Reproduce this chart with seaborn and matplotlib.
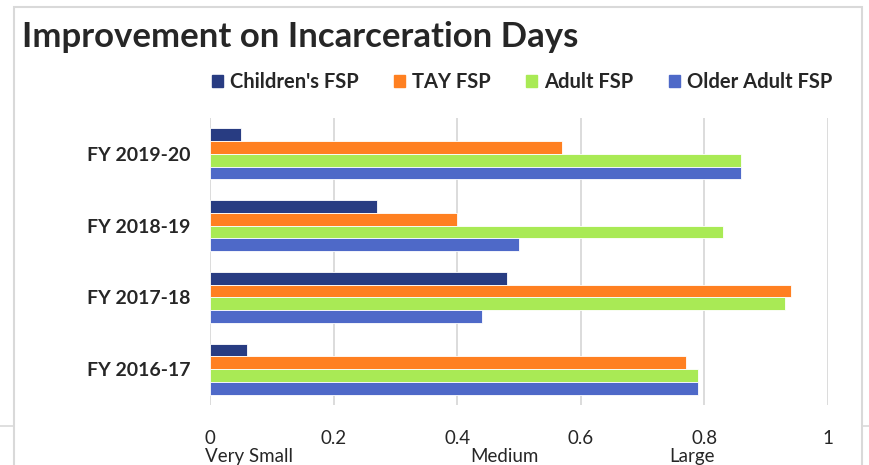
import pandas as pd
import matplotlib.pyplot as plt
import seaborn as sns
from matplotlib.patches import Rectangle
from matplotlib.lines import Line2D

years = ['FY 2019-20', 'FY 2018-19', 'FY 2017-18', 'FY 2016-17']
programs = ["Children's FSP", 'TAY FSP', 'Adult FSP', 'Older Adult FSP']
childrens = [0.05, 0.27, 0.48, 0.06]
tay = [0.57, 0.40, 0.94, 0.77]
adult = [0.86, 0.83, 0.93, 0.79]
older_adult = [0.86, 0.50, 0.44, 0.79]
colors = ['#283c82', '#ff8021', '#a9ea55', '#4e69c8']
x_ticks = [0, 0.2, 0.4, 0.6, 0.8, 1]
x_tick_labels = ['0', '0.2', '0.4', '0.6', '0.8', '1']
effect_labels = ['Very Small', 'Medium', 'Large']
effect_pos = [0.0, 0.476, 0.78]

# long format for seaborn
rows = []
for prog, vals in zip(programs, [childrens, tay, adult, older_adult]):
    for yr, v in zip(years, vals):
        rows.append({'Year': yr, 'Program': prog, 'Value': v})
df = pd.DataFrame(rows)

sns.set_style('white')
plt.rcParams['font.family'] = ['Lato', 'DejaVu Sans']

fig = plt.figure(figsize=(8.69, 4.65), dpi=100)
W, H = 869, 465
ax = fig.add_axes([210 / W, 1 - 405 / H, (828 - 210) / W, (405 - 118) / H])

sns.barplot(data=df, y='Year', x='Value', hue='Program', order=years,
            hue_order=programs, palette=colors, saturation=1, orient='h',
            width=0.71, edgecolor='white', linewidth=0.6, ax=ax, zorder=3)

ax.set_xlim(0, 1)
ax.set_xticks(x_ticks)
ax.set_xticklabels(x_tick_labels, fontsize=13.5)
ax.tick_params(axis='x', length=0, pad=18)
ax.tick_params(axis='y', length=0, pad=14)
for lbl in ax.get_yticklabels():
    lbl.set_fontweight('bold')
    lbl.set_fontsize(14)
ax.set_xlabel('')
ax.set_ylabel('')
ax.grid(axis='x', color='#d9d9d9', linewidth=1.3, zorder=0)
ax.set_axisbelow(True)
for s in ax.spines.values():
    s.set_visible(False)

# effect size words under the ticks
for lab, pos in zip(effect_labels, effect_pos):
    ha = 'left' if pos == 0 else 'center'
    xx = -0.008 if pos == 0 else pos
    ax.text(xx, -0.178, lab, transform=ax.get_xaxis_transform(),
            ha=ha, va='center', fontsize=13.5)

ax.legend_.remove()
handles = [Rectangle((0, 0), 1, 1, color=c) for c in colors]
fig.legend(handles, programs, loc='center', bbox_to_anchor=(522 / W, 1 - 82 / H),
           ncol=4, frameon=False, prop={'weight': 'bold', 'size': 14.5},
           handlelength=0.55, handleheight=0.55, handletextpad=0.35, columnspacing=1.75)

fig.text(22 / W, 1 - 37 / H, 'Improvement on Incarceration Days', fontsize=25,
         fontweight='bold', va='center', ha='left')

# chart border and sheet lines
fig.patches.append(Rectangle((14 / W, -0.1), (862 - 14) / W, 1.1 - 7 / H,
                             transform=fig.transFigure, fill=False,
                             edgecolor='#d9d9d9', linewidth=1.5))
fig.lines.append(Line2D([0, 14 / W], [1 - 426 / H] * 2, transform=fig.transFigure,
                        color='#d9d9d9', linewidth=1.2))
fig.lines.append(Line2D([862 / W, 1], [1 - 426 / H] * 2, transform=fig.transFigure,
                        color='#d9d9d9', linewidth=1.2))

fig.savefig('out.png', dpi=100)
